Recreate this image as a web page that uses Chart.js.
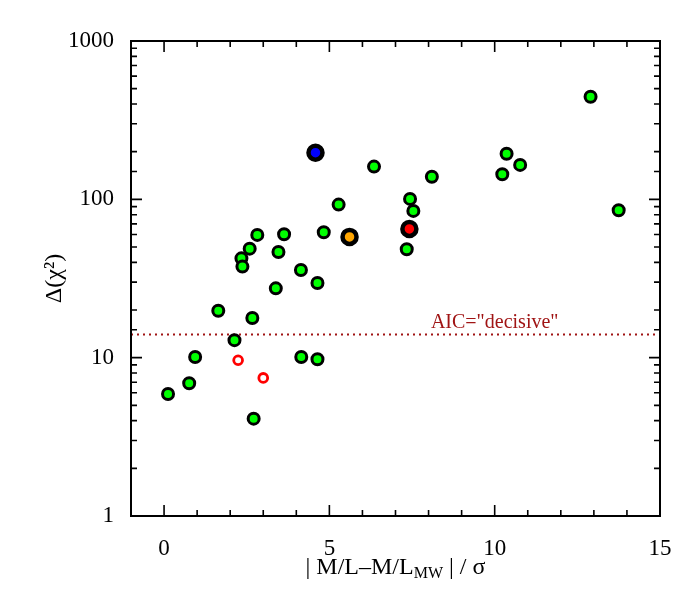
<!DOCTYPE html>
<html>
<head>
<meta charset="utf-8">
<script src="https://cdn.jsdelivr.net/npm/chart.js@4/dist/chart.umd.min.js"></script>
<style>
    html, body { margin: 0; padding: 0; background: #fff; }
    canvas { display: block; }
</style>
</head>
<body>
<canvas id="chart" width="700" height="600"></canvas>
<script>
'use strict';

// green points: |M/L - M/L_MW| / sigma  vs  delta chi^2
const greenX = [0.12, 0.76, 0.94, 1.64, 2.13, 2.34, 2.37, 2.59, 2.82, 2.67, 2.71, 3.46, 3.63, 3.38, 4.14,
    4.15, 4.64, 4.64, 4.83, 5.28, 6.35, 7.34, 7.44, 7.54, 8.10, 10.23, 10.36, 10.77, 12.90, 13.75];
const greenY = [5.9, 6.9, 10.1, 19.8, 12.9, 42.4, 37.6, 48.8, 59.6, 17.8, 4.12, 46.5, 60.2, 27.4, 35.8,
    10.1, 29.6, 9.77, 62.0, 92.6, 161, 48.4, 100.6, 84.5, 139, 144, 194, 165, 445, 85.3];

// highlighted objects
const blueX = [4.58];
const blueY = [197];
const orangeX = [5.61];
const orangeY = [57.9];
const redX = [7.42];
const redY = [65.0];

// open red circles
const openX = [2.24, 3.0];
const openY = [9.63, 7.45];

// AIC "decisive" threshold
const aicLevel = 14;
const aicLabel = 'AIC="decisive"';
const aicLabelX = 10;

const xMin = -1;
const xMax = 15;
const yMin = 1;
const yMax = 1000;

const SERIF = '"Liberation Serif", "DejaVu Serif", serif';
const DARK_RED = '#a01414';

const toPoints = (xs, ys) => xs.map((x, i) => ({x: x, y: ys[i]}));

// inward ticks on all four sides, frame, x title and annotation
const framePlugin = {
    id: 'frame',
    afterDraw(chart) {
        const ctx = chart.ctx;
        const area = chart.chartArea;
        const xs = chart.scales.x;
        const ys = chart.scales.y;

        ctx.save();
        ctx.strokeStyle = '#000';
        ctx.lineWidth = 2;
        ctx.strokeRect(area.left, area.top, area.right - area.left, area.bottom - area.top);

        ctx.lineWidth = 1.6;
        ctx.beginPath();
        xs.ticks.forEach((t) => {
            const px = xs.getPixelForValue(t.value);
            const len = t.value % 5 === 0 ? 11 : 6;
            ctx.moveTo(px, area.bottom);
            ctx.lineTo(px, area.bottom - len);
            ctx.moveTo(px, area.top);
            ctx.lineTo(px, area.top + len);
        });
        ys.ticks.forEach((t) => {
            const py = ys.getPixelForValue(t.value);
            const lg = Math.log10(t.value);
            const len = Math.abs(lg - Math.round(lg)) < 1e-6 ? 11 : 6;
            ctx.moveTo(area.left, py);
            ctx.lineTo(area.left + len, py);
            ctx.moveTo(area.right, py);
            ctx.lineTo(area.right - len, py);
        });
        ctx.stroke();

        // annotation above the dotted line
        ctx.fillStyle = DARK_RED;
        ctx.font = '20px ' + SERIF;
        ctx.textAlign = 'center';
        ctx.textBaseline = 'alphabetic';
        ctx.fillText(aicLabel, xs.getPixelForValue(aicLabelX), ys.getPixelForValue(aicLevel) - 7);

        // x title with subscript
        const partA = '| M/L\u2013M/L';
        const partB = 'MW';
        const partC = ' | / \u03c3';
        const bigFont = '24px ' + SERIF;
        const smallFont = '16px ' + SERIF;
        ctx.fillStyle = '#000';
        ctx.font = bigFont;
        const wA = ctx.measureText(partA).width;
        const wC = ctx.measureText(partC).width;
        ctx.font = smallFont;
        const wB = ctx.measureText(partB).width;
        const total = wA + wB + wC;
        let tx = (area.left + area.right) / 2 - total / 2;
        const base = 574;
        ctx.textAlign = 'left';
        ctx.font = bigFont;
        ctx.fillText(partA, tx, base);
        tx += wA;
        ctx.font = smallFont;
        ctx.fillText(partB, tx, base + 4);
        tx += wB;
        ctx.font = bigFont;
        ctx.fillText(partC, tx, base);
        ctx.restore();
    }
};

new Chart(document.getElementById('chart').getContext('2d'), {
    type: 'scatter',
    data: {
        datasets: [
            {
                label: 'threshold',
                type: 'line',
                data: [{x: xMin, y: aicLevel}, {x: xMax, y: aicLevel}],
                borderColor: DARK_RED,
                borderWidth: 2,
                borderDash: [2, 4],
                pointRadius: 0,
                order: 10
            },
            {
                label: 'galaxies',
                data: toPoints(greenX, greenY),
                backgroundColor: '#00ff00',
                borderColor: '#000',
                borderWidth: 3,
                pointRadius: 5.5,
                order: 1
            },
            {
                label: 'open',
                data: toPoints(openX, openY),
                backgroundColor: '#fff',
                borderColor: '#ff0000',
                borderWidth: 2.8,
                pointRadius: 4.4,
                order: 1
            },
            {
                label: 'blue',
                data: toPoints(blueX, blueY),
                backgroundColor: '#0000ff',
                borderColor: '#000',
                borderWidth: 4.5,
                pointRadius: 7,
                order: 0
            },
            {
                label: 'orange',
                data: toPoints(orangeX, orangeY),
                backgroundColor: '#ffa500',
                borderColor: '#000',
                borderWidth: 4.5,
                pointRadius: 7,
                order: 0
            },
            {
                label: 'red',
                data: toPoints(redX, redY),
                backgroundColor: '#ff0000',
                borderColor: '#000',
                borderWidth: 4.5,
                pointRadius: 7,
                order: 0
            }
        ]
    },
    options: {
        responsive: false,
        animation: false,
        layout: {
            padding: {left: 0, top: 41, right: 40, bottom: 0}
        },
        plugins: {
            legend: {display: false},
            tooltip: {enabled: false}
        },
        scales: {
            x: {
                type: 'linear',
                min: xMin,
                max: xMax,
                grid: {display: false},
                border: {display: false},
                ticks: {
                    stepSize: 1,
                    autoSkip: false,
                    maxRotation: 0,
                    padding: 11,
                    color: '#000',
                    font: {family: SERIF, size: 23},
                    callback: (v) => (v % 5 === 0 && v >= 0 ? String(v) : '')
                },
                afterFit: (scale) => { scale.height = 84; }
            },
            y: {
                type: 'logarithmic',
                min: yMin,
                max: yMax,
                grid: {display: false},
                border: {display: false},
                ticks: {
                    autoSkip: false,
                    padding: 9,
                    color: '#000',
                    font: {family: SERIF, size: 23},
                    callback: (v) => {
                        const lg = Math.log10(v);
                        return Math.abs(lg - Math.round(lg)) < 1e-6 ? String(v) : '';
                    }
                },
                title: {
                    display: true,
                    text: '\u0394(\u03c7\u00b2)',
                    color: '#000',
                    font: {family: SERIF, size: 24},
                    padding: {top: 40, bottom: 0}
                },
                afterFit: (scale) => { scale.width = 131; }
            }
        }
    },
    plugins: [framePlugin]
});
</script>
</body>
</html>
